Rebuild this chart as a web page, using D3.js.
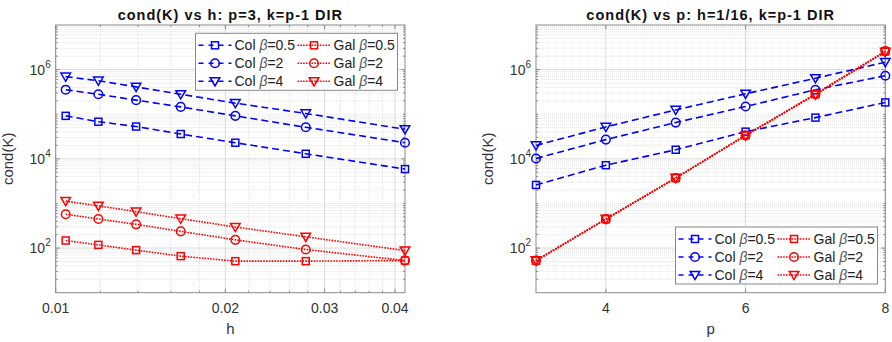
<!DOCTYPE html>
<html>
<head>
<meta charset="utf-8">
<script src="https://cdn.jsdelivr.net/npm/d3@7"></script>
<style>
  html, body { margin: 0; padding: 0; background: #fff; }
  svg { display: block; font-family: 'Liberation Sans', Arial, sans-serif; }
</style>
</head>
<body>
<div id="chart"></div>
<script>
// h sweep (p=3)
const hValues = [1 / 96, 1 / 84, 1 / 72, 1 / 60, 1 / 48, 1 / 36, 1 / 24];
const colB05H = [9.2e4, 6.8e4, 5.3e4, 3.6e4, 2.3e4, 1.3e4, 5.9e3];
const colB2H = [3.55e5, 2.8e5, 2.07e5, 1.46e5, 9.2e4, 5.1e4, 2.3e4];
const colB4H = [6.95e5, 5.65e5, 4.1e5, 2.8e5, 1.77e5, 1.04e5, 4.6e4];
const galB05H = [148, 118, 90, 66, 51, 51, 52.5];
const galB2H = [573, 449, 341, 237, 153, 93, 52.5];
const galB4H = [1130, 883, 657, 456, 297, 179, 88];

// p sweep (h=1/16)
const pValues = [3, 4, 5, 6, 7, 8];
const colB05P = [2.6e3, 7.2e3, 1.6e4, 4.07e4, 8.4e4, 1.84e5];
const colB2P = [1.02e4, 2.7e4, 6.5e4, 1.49e5, 3.54e5, 7.3e5];
const colB4P = [2.0e4, 5.2e4, 1.25e5, 2.87e5, 6.4e5, 1.47e6];
const galB05P = [52, 443, 3.7e3, 3.4e4, 2.8e5, 2.55e6];
const galB2P = [52.5, 445, 3.72e3, 3.36e4, 2.85e5, 2.6e6];
const galB4P = [53, 450, 3.75e3, 3.3e4, 2.75e5, 2.5e6];

const seriesNames = ['Col', 'Col', 'Col', 'Gal', 'Gal', 'Gal'];
const betaLabels = ['0.5', '2', '4', '0.5', '2', '4'];
const yTickExps = [2, 4, 6];
const hTicks = [0.01, 0.02, 0.03, 0.04];
const hTickLabels = ['0.01', '0.02', '0.03', '0.04'];
const pTicks = [4, 6, 8];

const W = 892, H = 342;
const svg = d3.select('#chart').append('svg').attr('width', W).attr('height', H);

const BLUE = '#0000ff', RED = '#ff0000';
const styles = [
  { color: BLUE, dash: '7,4', marker: 'square' },
  { color: BLUE, dash: '7,4', marker: 'circle' },
  { color: BLUE, dash: '7,4', marker: 'tri' },
  { color: RED, dash: '1.6,1.2', marker: 'square' },
  { color: RED, dash: '1.6,1.2', marker: 'circle' },
  { color: RED, dash: '1.6,1.2', marker: 'tri' }
];

function drawMarker(g, type, x, y, color) {
  if (type === 'square') {
    g.append('rect').attr('x', x - 3.5).attr('y', y - 3.5).attr('width', 7).attr('height', 7)
      .attr('fill', 'none').attr('stroke', color).attr('stroke-width', 1.5);
  } else if (type === 'circle') {
    g.append('circle').attr('cx', x).attr('cy', y).attr('r', 4.3)
      .attr('fill', 'none').attr('stroke', color).attr('stroke-width', 1.5);
  } else {
    g.append('path').attr('d', `M${x - 4.8},${y - 3.6}L${x + 4.8},${y - 3.6}L${x},${y + 4.6}Z`)
      .attr('fill', 'none').attr('stroke', color).attr('stroke-width', 1.5);
  }
}

function drawPanel(opt) {
  let { left, right, top, bottom } = opt;
  let g = svg.append('g');

  let x = opt.xScale.range([left, right]);
  let y = d3.scaleLog().domain([10, 1e7]).range([bottom, top]);

  // minor grid (log y)
  let yMinor = [];
  for (let e = 1; e < 7; e++) {
    for (let m = 1; m <= 9; m++) {
      let v = m * Math.pow(10, e);
      if (!(m === 1 && yTickExps.includes(e)) && v > 10) yMinor.push(v);
    }
  }
  g.selectAll('.ymin').data(yMinor).enter().append('line')
    .attr('x1', left).attr('x2', right)
    .attr('y1', d => y(d)).attr('y2', d => y(d))
    .attr('stroke', '#e2e2e2').attr('stroke-width', 1).attr('stroke-dasharray', '1,1');
  g.selectAll('.xmin').data(opt.xMinor).enter().append('line')
    .attr('x1', d => x(d)).attr('x2', d => x(d))
    .attr('y1', top).attr('y2', bottom)
    .attr('stroke', '#e2e2e2').attr('stroke-width', 1).attr('stroke-dasharray', '1,1');

  // major grid
  g.selectAll('.ymaj').data(yTickExps).enter().append('line')
    .attr('x1', left).attr('x2', right)
    .attr('y1', d => y(Math.pow(10, d))).attr('y2', d => y(Math.pow(10, d)))
    .attr('stroke', '#dadada').attr('stroke-width', 1);
  g.selectAll('.xmaj').data(opt.xTicks).enter().append('line')
    .attr('x1', d => x(d)).attr('x2', d => x(d))
    .attr('y1', top).attr('y2', bottom)
    .attr('stroke', '#dadada').attr('stroke-width', 1);

  // box + ticks
  g.append('rect').attr('x', left).attr('y', top).attr('width', right - left).attr('height', bottom - top)
    .attr('fill', 'none').attr('stroke', '#8a8a8a').attr('stroke-width', 1);
  let tk = g.append('g').attr('stroke', '#8a8a8a').attr('stroke-width', 1);
  yTickExps.forEach(e => {
    let yy = y(Math.pow(10, e));
    tk.append('line').attr('x1', left).attr('x2', left + 4).attr('y1', yy).attr('y2', yy);
    tk.append('line').attr('x1', right).attr('x2', right - 4).attr('y1', yy).attr('y2', yy);
  });
  yMinor.forEach(v => {
    let yy = y(v);
    tk.append('line').attr('x1', left).attr('x2', left + 2).attr('y1', yy).attr('y2', yy);
    tk.append('line').attr('x1', right).attr('x2', right - 2).attr('y1', yy).attr('y2', yy);
  });
  opt.xTicks.forEach(v => {
    let xx = x(v);
    tk.append('line').attr('x1', xx).attr('x2', xx).attr('y1', bottom).attr('y2', bottom - 4);
    tk.append('line').attr('x1', xx).attr('x2', xx).attr('y1', top).attr('y2', top + 4);
  });
  opt.xMinor.forEach(v => {
    let xx = x(v);
    tk.append('line').attr('x1', xx).attr('x2', xx).attr('y1', bottom).attr('y2', bottom - 2);
    tk.append('line').attr('x1', xx).attr('x2', xx).attr('y1', top).attr('y2', top + 2);
  });

  // tick labels
  opt.xTicks.forEach((v, i) => {
    g.append('text').attr('x', x(v)).attr('y', bottom + 20)
      .attr('text-anchor', 'middle').attr('font-size', 14).attr('fill', '#333')
      .text(opt.xLabels[i]);
  });
  yTickExps.forEach(e => {
    let t = g.append('text').attr('x', left - 5).attr('y', y(Math.pow(10, e)) + 5)
      .attr('text-anchor', 'end').attr('font-size', 14).attr('fill', '#333');
    t.append('tspan').text('10');
    t.append('tspan').attr('font-size', 10).attr('dy', -7).text(e);
  });

  // axis labels + title
  g.append('text').attr('x', (left + right) / 2).attr('y', 334)
    .attr('text-anchor', 'middle').attr('font-size', 15).attr('fill', '#333').text(opt.xName);
  g.append('text').attr('transform', `translate(${left - 43}, ${(top + bottom) / 2}) rotate(-90)`)
    .attr('text-anchor', 'middle').attr('font-size', 15).attr('fill', '#333').text('cond(K)');
  g.append('text').attr('x', (left + right) / 2).attr('y', 19.5)
    .attr('text-anchor', 'middle').attr('font-size', 14.5).attr('font-weight', 'bold')
    .attr('letter-spacing', 1).attr('fill', '#111')
    .text(opt.title);

  // series
  opt.series.forEach((vals, i) => {
    let st = styles[i];
    let pts = vals.map((v, j) => [x(opt.xs[j]), y(v)]);
    g.append('path').attr('d', d3.line()(pts))
      .attr('fill', 'none').attr('stroke', st.color).attr('stroke-width', 1.6)
      .attr('stroke-dasharray', st.dash);
    let mg = g.append('g');
    pts.forEach(p => drawMarker(mg, st.marker, p[0], p[1], st.color));
  });

  // legend
  let lx = opt.legend[0], ly = opt.legend[1];
  let lg = g.append('g').attr('transform', `translate(${lx}, ${ly})`);
  lg.append('rect').attr('width', 202).attr('height', 57)
    .attr('fill', '#fff').attr('stroke', '#8a8a8a').attr('stroke-width', 1);
  styles.forEach((st, i) => {
    let col = i < 3 ? 0 : 1;
    let row = i % 3;
    let ox = col === 0 ? 3 : 102;
    let oy = 12 + row * 18;
    lg.append('line').attr('x1', ox).attr('x2', ox + 33).attr('y1', oy).attr('y2', oy)
      .attr('stroke', st.color).attr('stroke-width', 1.6)
      .attr('stroke-dasharray', col === 0 ? '5,5' : '1.6,1.2');
    drawMarker(lg, st.marker, ox + 16.5, oy, st.color);
    let t = lg.append('text').attr('x', ox + 36).attr('y', oy + 5).attr('font-size', 14).attr('fill', '#222');
    t.append('tspan').text(seriesNames[i] + ' ');
    t.append('tspan').attr('font-style', 'italic').attr('fill', '#555').text('β');
    t.append('tspan').text('=' + betaLabels[i]);
  });
}

let hMinor = d3.range(0.012, 0.0405, 0.002).filter(v => Math.abs(v - 0.02) > 1e-6 && Math.abs(v - 0.03) > 1e-6 && Math.abs(v - 0.04) > 1e-6);

drawPanel({
  left: 55.7, right: 405, top: 25, bottom: 292.7,
  xScale: d3.scaleLog().domain([0.01, 1 / 24]),
  xs: hValues,
  xTicks: hTicks, xLabels: hTickLabels, xMinor: hMinor,
  xName: 'h',
  title: 'cond(K) vs h: p=3, k=p-1 DIR',
  series: [colB05H, colB2H, colB4H, galB05H, galB2H, galB4H],
  legend: [195.5, 33.3]
});

drawPanel({
  left: 536, right: 885.3, top: 25, bottom: 292.7,
  xScale: d3.scaleLinear().domain([3, 8]),
  xs: pValues,
  xTicks: pTicks, xLabels: pTicks.map(String), xMinor: [],
  xName: 'p',
  title: 'cond(K) vs p: h=1/16, k=p-1 DIR',
  series: [colB05P, colB2P, colB4P, galB05P, galB2P, galB4P],
  legend: [675.5, 227]
});
</script>
</body>
</html>
